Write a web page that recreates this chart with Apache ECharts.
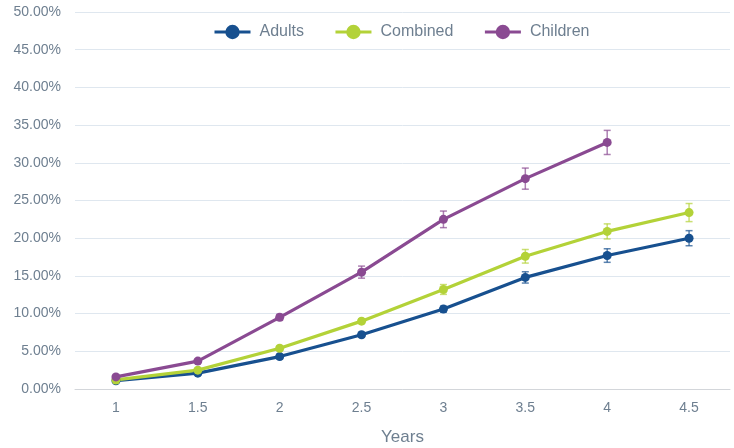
<!DOCTYPE html>
<html><head><meta charset="utf-8">
<script src="https://cdn.jsdelivr.net/npm/echarts@6/dist/echarts.min.js"></script>
<style>html,body{margin:0;padding:0;background:#fff}#c{width:734px;height:448px}</style>
</head><body><div id="c"></div>
<script>
const years = ['1','1.5','2','2.5','3','3.5','4','4.5'];
const adults = [1.1, 2.1, 4.3, 7.2, 10.6, 14.8, 17.7, 20.0];
const adultsErr = [0.2, 0.2, 0.3, 0.3, 0.4, 0.75, 0.9, 1.0];
const combined = [1.2, 2.5, 5.4, 9.0, 13.2, 17.6, 20.9, 23.4];
const combinedErr = [0.2, 0.2, 0.3, 0.3, 0.65, 0.9, 1.0, 1.2];
const children = [1.6, 3.7, 9.5, 15.5, 22.5, 27.9, 32.7];
const childrenErr = [0.2, 0.25, 0.4, 0.8, 1.1, 1.4, 1.6];
const yTicks = [0, 5, 10, 15, 20, 25, 30, 35, 40, 45, 50];

const colors = {Adults:'#17508f', Combined:'#b3d238', Children:'#8a4a92'};
const txt = '#6e7f90';
const font = '"Liberation Sans", Arial, sans-serif';

function lineSeries(name, data){
  return {name, type:'line', data, color:colors[name], symbol:'circle', symbolSize:9,
    lineStyle:{width:3.2}, itemStyle:{color:colors[name]}, z:3};
}
function errSeries(name, vals, errs){
  return {name:name+' err', type:'custom', z:2, silent:true,
    itemStyle:{color:colors[name]},
    data: vals.map((v,i)=>[i, v-errs[i], v+errs[i]]),
    renderItem(params, api){
      const lo = api.coord([api.value(0), api.value(1)]);
      const hi = api.coord([api.value(0), api.value(2)]);
      const w = 3.5;
      const st = {stroke:colors[name], lineWidth:1.5, opacity:0.7};
      return {type:'group', children:[
        {type:'line', shape:{x1:lo[0],y1:lo[1],x2:hi[0],y2:hi[1]}, style:st},
        {type:'line', shape:{x1:lo[0]-w,y1:lo[1],x2:lo[0]+w,y2:lo[1]}, style:st},
        {type:'line', shape:{x1:hi[0]-w,y1:hi[1],x2:hi[0]+w,y2:hi[1]}, style:st}
      ]};
    }
  };
}

const chart = echarts.init(document.getElementById('c'), null, {renderer:'canvas'});
chart.setOption({
  animation:false,
  textStyle:{fontFamily:font},
  legend:{data:['Adults','Combined','Children'], top:19, left:208, itemWidth:36, itemHeight:18, itemGap:30,
    lineStyle:{width:3},
    textStyle:{color:txt, fontSize:16, fontFamily:font, padding:[0,0,0,4]}},
  grid:{left:75, right:4, top:12, bottom:59, containLabel:false, outerBoundsMode:'none'},
  xAxis:{type:'category', data:years, boundaryGap:true,
    name:'Years', nameLocation:'middle', nameGap:40,
    nameTextStyle:{color:txt, fontSize:17, fontFamily:font},
    axisLine:{lineStyle:{color:'#d3d6da', width:1}}, axisTick:{show:false},
    axisLabel:{color:txt, fontSize:14, margin:12, fontFamily:font}},
  yAxis:{type:'value', min:0, max:50, interval:5,
    axisLine:{show:false}, axisTick:{show:false},
    splitLine:{lineStyle:{color:'#dfe7ef', width:1}},
    axisLabel:{color:txt, fontSize:14, margin:14, fontFamily:font, formatter:v=>v.toFixed(2)+'%'}},
  series:[
    errSeries('Adults', adults, adultsErr),
    errSeries('Combined', combined, combinedErr),
    errSeries('Children', children, childrenErr),
    lineSeries('Adults', adults),
    lineSeries('Combined', combined),
    lineSeries('Children', children)
  ]
});
</script></body></html>
